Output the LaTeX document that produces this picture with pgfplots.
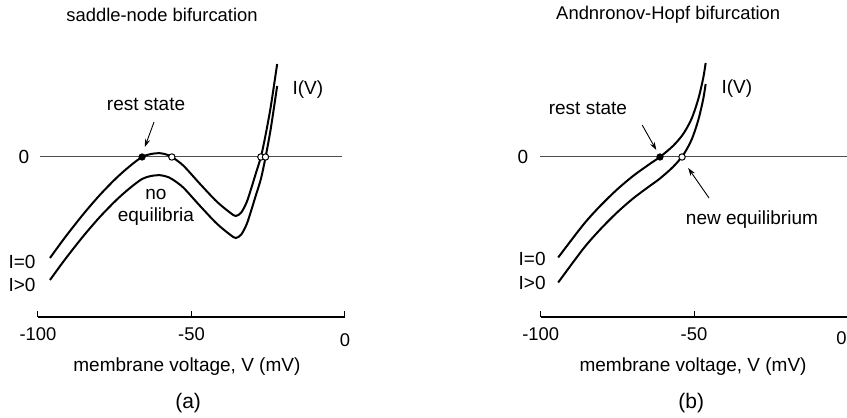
\documentclass[border=0pt]{standalone}
\usepackage{fontspec}
\setmainfont{Liberation Sans}
\usepackage{pgfplots}
\pgfplotsset{compat=1.18}
\usetikzlibrary{arrows.meta}

\pgfplotsset{
  bif/.style={
    scale only axis,
    height=138.5pt,
    xmin=-100, xmax=0, ymin=-160, ymax=117,
    axis x line*=bottom, axis y line=none,
    axis line style={-, line width=1pt},
    xtick={-100,-50,0}, xticklabels={-100,-50,{}},
    tick align=inside, major tick length=3pt,
    tick style={black, line width=0.5pt},
    xticklabel style={font=\fontsize{9.2}{11}\selectfont, yshift=-2pt},
    clip=false,
  },
  curve/.style={smooth, black, line width=1pt, no markers},
}
\tikzset{
  lbl/.style={font=\fontsize{9.5}{11}\selectfont},
  pointer/.style={-{Stealth[length=4pt,width=2.6pt]}, line width=0.45pt},
}

\begin{document}
\begin{tikzpicture}
\useasboundingbox (0,0) rectangle (423.5pt,209pt);

% (a) saddle-node
\begin{axis}[bif, width=153.5pt, at={(19pt,50.5pt)}, anchor=south west]
  \draw[line width=0.5pt, black!70] (axis cs:-99.3,0) -- (axis cs:-1,0);
  % I = 0
  \addplot[curve] coordinates {
    (-96.1,-101) (-91.2,-80.4) (-85.2,-57) (-79.8,-37.8) (-74.4,-20.8)
    (-70.0,-8.9) (-66.1,0) (-63.2,3) (-60.3,3.8) (-58.2,2.5) (-56.4,0)
    (-52.7,-8.5) (-47.2,-27) (-41.8,-44.5) (-37.5,-55.5) (-35.6,-59)
    (-33.8,-55.5) (-32.0,-45) (-30.5,-31) (-29.0,-16) (-27.4,0) (-26.0,20)
    (-24.2,50) (-22.1,93)};
  % I > 0
  \addplot[curve] coordinates {
    (-96.1,-123) (-91.2,-102.4) (-85.2,-79) (-79.8,-59.8) (-74.4,-42.8)
    (-70.0,-30.9) (-66.1,-22) (-63.2,-19) (-60.3,-18.2) (-58.2,-19.5) (-56.4,-22)
    (-52.7,-30.5) (-47.2,-49) (-41.8,-66.5) (-37.5,-77.5) (-35.6,-81)
    (-33.8,-77.5) (-32.0,-67) (-30.5,-53) (-29.0,-38) (-27.4,-22) (-26.0,-2)
    (-24.2,28) (-22.1,71)};
  \addplot[only marks, mark=*, mark size=1.6pt, black] coordinates {(-66.1,0)};
  \addplot[only marks, mark=*, mark size=1.6pt, mark options={fill=white, draw=black, line width=0.5pt}]
    coordinates {(-56.4,0) (-27.4,0) (-25.9,0)};
  \draw[pointer] (axis cs:-62.2,35) -- (axis cs:-65.2,10);
  \node[lbl] at (axis cs:-64.8,53) {rest state};
  \node[lbl, align=center] at (axis cs:-61.6,-50) {no\\equilibria};
  \node[lbl] at (axis cs:-12.1,67) {I(V)};
  \node[lbl] at (axis cs:-105.2,-105) {I=0};
  \node[lbl] at (axis cs:-105.2,-128) {I>0};
  \node[lbl] at (axis cs:-104.6,0) {0};
  \node[font=\fontsize{9.2}{11}\selectfont] at (axis cs:0,-183) {0};
  \node[font=\fontsize{9.2}{11}\selectfont] at (axis cs:-59.6,142) {saddle-node bifurcation};
  \node[lbl] at (axis cs:-51.5,-210) {membrane voltage, V (mV)};
  \node[font=\fontsize{10.5}{12}\selectfont] at (axis cs:-51.1,-246) {(a)};
\end{axis}

% (b) Andronov-Hopf
\begin{axis}[bif, width=153.3pt, at={(270.35pt,50.5pt)}, anchor=south west]
  \draw[line width=0.5pt, black!70] (axis cs:-100.2,0) -- (axis cs:2,0);
  % I = 0
  \addplot[curve] coordinates {
    (-94.3,-100.5) (-86.1,-67.7) (-80.7,-49.3) (-75.2,-32.8) (-69.8,-18.8)
    (-64.4,-6.9) (-61.1,0) (-56.8,11.2) (-53.5,23.1) (-50.8,38.2)
    (-48.6,58) (-47.0,78.8) (-46.2,94)};
  % I > 0
  \addplot[curve] coordinates {
    (-94.3,-125.5) (-86.1,-91.7) (-80.7,-72.8) (-75.2,-55.8) (-69.8,-41.3)
    (-64.4,-28.9) (-61.1,-21.5) (-56.8,-9.8) (-53.5,2.1) (-50.8,17.2)
    (-48.6,37) (-47.0,57.8) (-46.2,73)};
  \addplot[only marks, mark=*, mark size=1.6pt, black] coordinates {(-61.1,0)};
  \addplot[only marks, mark=*, mark size=1.6pt, mark options={fill=white, draw=black, line width=0.5pt}]
    coordinates {(-53.9,0)};
  \draw[pointer] (axis cs:-66.9,32) -- (axis cs:-62.3,7);
  \draw[pointer] (axis cs:-45.1,-41) -- (axis cs:-51.9,-11);
  \node[lbl] at (axis cs:-84.6,49) {rest state};
  \node[lbl] at (axis cs:-31.1,-63) {new equilibrium};
  \node[lbl] at (axis cs:-36.0,68) {I(V)};
  \node[lbl] at (axis cs:-102.8,-102) {I=0};
  \node[lbl] at (axis cs:-102.8,-126) {I>0};
  \node[lbl] at (axis cs:-105.8,0) {0};
  \node[font=\fontsize{9.2}{11}\selectfont] at (axis cs:-1.9,-181) {0};
  \node[font=\fontsize{9.2}{11}\selectfont] at (axis cs:-58.4,142) {Andnronov-Hopf bifurcation};
  \node[lbl] at (axis cs:-50.3,-210) {membrane voltage, V (mV)};
  \node[font=\fontsize{10.5}{12}\selectfont] at (axis cs:-50.9,-246) {(b)};
\end{axis}
\end{tikzpicture}
\end{document}
